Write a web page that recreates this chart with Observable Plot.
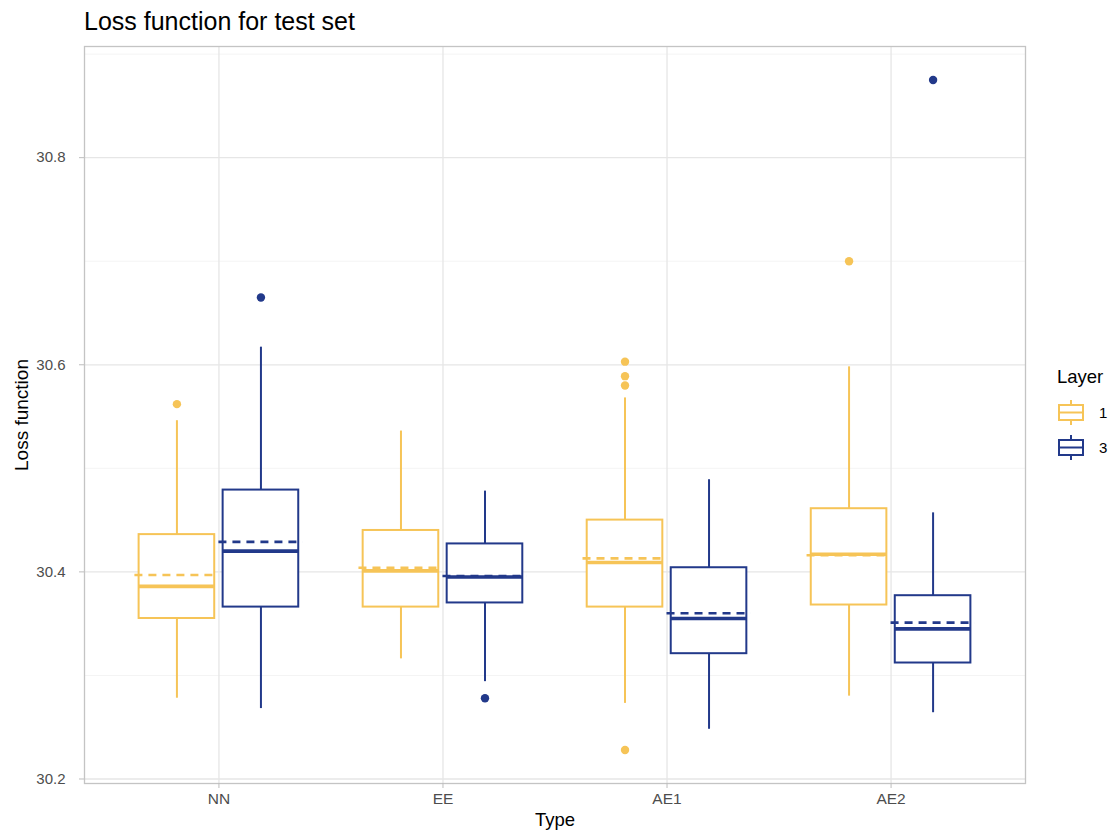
<!DOCTYPE html>
<html>
<head>
<meta charset="utf-8">
<script src="https://cdn.jsdelivr.net/npm/d3@7"></script>
<script src="https://cdn.jsdelivr.net/npm/@observablehq/plot@0.6"></script>
<style>
  html, body { margin: 0; padding: 0; background: #fff; }
  body { width: 1112px; height: 836px; position: relative; overflow: hidden;
         font-family: "Liberation Sans", Arial, Helvetica, sans-serif; }
  #title { height: 36px; line-height: 42px; padding-left: 84px; font-size: 25px; color: #000; white-space: nowrap; }
  #legend { position: absolute; left: 1057px; top: 365px; }
  #legend .lt { font-size: 18.5px; line-height: 24px; color: #000; margin-bottom: 6px; }
  #legend .row { display: flex; align-items: center; height: 35px; }
  #legend .row span { font-size: 15px; color: #000; margin-left: 14px; }
</style>
</head>
<body>
<div id="title">Loss function for test set</div>
<div id="chart"></div>
<div id="legend"></div>
<script>
// ---- data ----
const types = ["NN", "EE", "AE1", "AE2"];
const layers = ["1", "3"];
const layerColors = ["#F6C457", "#22398A"];

// Layer 1 box statistics, in order of types
const l1Lower  = [30.278, 30.316, 30.273, 30.280];
const l1Q1     = [30.355, 30.366, 30.366, 30.368];
const l1Median = [30.386, 30.401, 30.409, 30.417];
const l1Q3     = [30.436, 30.440, 30.450, 30.461];
const l1Upper  = [30.546, 30.536, 30.568, 30.598];
const l1Mean   = [30.397, 30.404, 30.413, 30.416];

// Layer 3 box statistics, in order of types
const l3Lower  = [30.268, 30.294, 30.248, 30.264];
const l3Q1     = [30.366, 30.370, 30.321, 30.312];
const l3Median = [30.420, 30.395, 30.355, 30.345];
const l3Q3     = [30.479, 30.427, 30.404, 30.377];
const l3Upper  = [30.617, 30.478, 30.489, 30.457];
const l3Mean   = [30.429, 30.396, 30.360, 30.351];

// Outliers
const outType  = ["NN", "AE1", "AE1", "AE1", "AE1", "AE2", "NN", "EE", "AE2"];
const outLayer = ["1", "1", "1", "1", "1", "1", "3", "3", "3"];
const outValue = [30.562, 30.603, 30.589, 30.580, 30.228, 30.700, 30.665, 30.278, 30.875];

const yTicks = [30.2, 30.4, 30.6, 30.8];
const yMinor = [30.3, 30.5, 30.7, 30.9];

// ---- build tables ----
const dodge = 0.1875, halfBox = 0.16875;
const offsetOf = {"1": -dodge, "3": dodge};
const stats = {
  "1": [l1Lower, l1Q1, l1Median, l1Q3, l1Upper, l1Mean],
  "3": [l3Lower, l3Q1, l3Median, l3Q3, l3Upper, l3Mean]
};
const boxes = [];
for (const layer of layers) {
  const [lo, q1, med, q3, hi, mean] = stats[layer];
  types.forEach((t, i) => {
    boxes.push({type: t, layer, xc: i + 1 + offsetOf[layer],
      lo: lo[i], q1: q1[i], med: med[i], q3: q3[i], hi: hi[i], mean: mean[i]});
  });
}
const outliers = outValue.map((v, i) => ({
  type: outType[i], layer: outLayer[i], value: v,
  xc: types.indexOf(outType[i]) + 1 + offsetOf[outLayer[i]]
}));

const allVals = boxes.flatMap(d => [d.lo, d.hi]).concat(outValue);
const vMin = d3.min(allVals), vMax = d3.max(allVals), pad = (vMax - vMin) * 0.05;

const grey = "#4D4D4D";
const plot = Plot.plot({
  width: 1112,
  height: 800,
  marginLeft: 84,
  marginRight: 87,
  marginTop: 10,
  marginBottom: 53,
  style: {fontFamily: '"Liberation Sans", Arial, Helvetica, sans-serif', fontSize: "15px", background: "#fff"},
  x: {domain: [0.4, types.length + 0.6], axis: null},
  y: {domain: [vMin - pad, vMax + pad], axis: null},
  color: {domain: layers, range: layerColors},
  marks: [
    Plot.gridY(yMinor, {stroke: "#F4F4F4", strokeOpacity: 1, strokeWidth: 1}),
    Plot.gridY(yTicks, {stroke: "#E6E6E6", strokeOpacity: 1, strokeWidth: 1.3}),
    Plot.gridX(d3.range(1, types.length + 1), {stroke: "#E6E6E6", strokeOpacity: 1, strokeWidth: 1.3}),
    Plot.frame({stroke: "#C4C4C4", strokeWidth: 1.3}),
    Plot.axisY({ticks: yTicks, tickFormat: d => d.toFixed(1), tickSize: 5, tickPadding: 14,
      stroke: "#BDBDBD", fill: grey, fontSize: 15, label: null}),
    Plot.axisX({ticks: d3.range(1, types.length + 1), tickFormat: d => types[d - 1], tickSize: 5, tickPadding: 4,
      stroke: "#BDBDBD", fill: grey, fontSize: 15.5, label: null}),
    // whiskers
    Plot.ruleX(boxes, {x: "xc", y1: "q3", y2: "hi", stroke: "layer", strokeWidth: 2}),
    Plot.ruleX(boxes, {x: "xc", y1: "lo", y2: "q1", stroke: "layer", strokeWidth: 2}),
    // boxes
    Plot.rect(boxes, {x1: d => d.xc - halfBox, x2: d => d.xc + halfBox, y1: "q1", y2: "q3",
      fill: "white", stroke: "layer", strokeWidth: 2, inset: 0}),
    // medians
    Plot.ruleY(boxes, {y: "med", x1: d => d.xc - halfBox, x2: d => d.xc + halfBox, stroke: "layer", strokeWidth: 3.6}),
    // outliers
    Plot.dot(outliers, {x: "xc", y: "value", fill: "layer", r: 4.2}),
    // means (dashed)
    Plot.ruleY(boxes, {y: "mean", x1: d => d.xc - dodge, x2: d => d.xc + dodge, stroke: "layer",
      strokeWidth: 2.6, strokeDasharray: "8,6"}),
    // axis titles
    Plot.text(["Loss function"], {frameAnchor: "left", textAnchor: "middle", dx: -63, rotate: -90, fontSize: 19, fill: "#000"}),
    Plot.text(["Type"], {frameAnchor: "bottom", textAnchor: "middle", dy: 42, fontSize: 18.5, fill: "#000"})
  ]
});
document.getElementById("chart").appendChild(plot);

// ---- legend ----
const legend = document.getElementById("legend");
legend.innerHTML = '<div class="lt">Layer</div>' + layers.map((l, i) => {
  const c = layerColors[i];
  return '<div class="row"><svg width="28" height="35">' +
    `<line x1="14" x2="14" y1="5" y2="10" stroke="${c}" stroke-width="2"/>` +
    `<line x1="14" x2="14" y1="25" y2="30" stroke="${c}" stroke-width="2"/>` +
    `<rect x="2" y="10" width="24" height="15" fill="white" stroke="${c}" stroke-width="2"/>` +
    `<line x1="2" x2="26" y1="17.5" y2="17.5" stroke="${c}" stroke-width="2"/>` +
    `</svg><span>${l}</span></div>`;
}).join("");
</script>
</body>
</html>
